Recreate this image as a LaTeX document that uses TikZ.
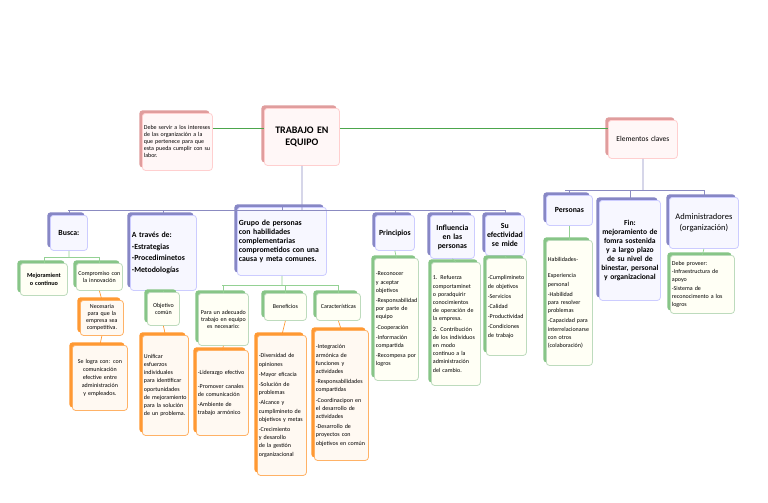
\documentclass[tikz,border=0pt]{standalone}
\usepackage{fontspec}
\setmainfont{Carlito}
\hyphenpenalty=10000
\exhyphenpenalty=10000
\begin{document}
\begin{tikzpicture}[x=1pt,y=-1pt,
 base/.style={anchor=north west,rounded corners=3pt,inner sep=1.5pt,font=\fontsize{6}{7}\selectfont,line width=0.8pt},
 pk/.style={base,draw=pink!70!red!40,fill=red!3,preaction={fill=red!40!pink!80!black!60,transform canvas={shift={(-3pt,3pt)}}}},
 bl/.style={base,draw=blue!20,fill=blue!3,preaction={fill=blue!35!gray!70,transform canvas={shift={(-3pt,3pt)}}}},
 gr/.style={base,draw=green!30!gray!40,fill=green!3!yellow!4,preaction={fill=green!35!gray!70,transform canvas={shift={(-3pt,3pt)}}}},
 or/.style={base,draw=orange!60,fill=orange!5,preaction={fill=orange!80,transform canvas={shift={(-3pt,3pt)}}}},
 lst/.style={font=\fontsize{6}{8.2}\selectfont},
 ttl/.style={font=\fontsize{7.8}{9}\selectfont\bfseries},
 gl/.style={draw=green!50!black!70,line width=0.8pt},
 bline/.style={draw=blue!30!gray!70,line width=0.7pt},
 gline/.style={draw=green!40!gray!60,line width=0.7pt},
 oline/.style={draw=orange!80,line width=0.7pt}]
\useasboundingbox[fill=white] (0,0) rectangle (768,503);
% top
\node[pk,text width=67pt,minimum height=57pt,align=left] (debe) at (142,113) {Debe servir a los intereses de las organización a la que pertenece para que esta pueda cumplir con su labor.};
\node[pk,text width=72pt,minimum height=57pt,align=center,font=\fontsize{10}{12.5}\selectfont\bfseries] (te) at (264,108) {TRABAJO EN\\EQUIPO};
\node[pk,text width=66pt,minimum height=38pt,align=center,font=\fontsize{7.5}{8.5}\selectfont] (ec) at (608,120) {Elementos claves};
\draw[gl] (debe.east|-0,128) -- (te.west|-0,128);
\draw[gl] (te.east|-0,128) -- (ec.west|-0,128);
% level 2
\node[bl,ttl,text width=34pt,minimum height=35pt,align=center] (busca) at (50,215) {Busca:};
\node[bl,text width=63pt,minimum height=75pt,align=left,font=\fontsize{7.8}{11.5}\selectfont\bfseries] (atraves) at (130,215) {A través de:\\-Estrategias\\-Procediminetos\\-Metodologías};
\node[bl,ttl,text width=86pt,minimum height=68pt,align=left] (grupo) at (237,207) {Grupo de personas con habilidades complementarias comprometidos con una causa y meta comunes.};
\node[bl,ttl,text width=36pt,minimum height=35pt,align=center] (princ) at (375,215) {Principios};
\node[bl,ttl,text width=41pt,minimum height=43pt,align=center] (infl) at (430,215) {Influencia en las personas};
\node[bl,ttl,text width=36pt,minimum height=40pt,align=center] (suef) at (485,215) {Su efectividad se mide};
\coordinate (b1) at (302,210);
\draw[bline] (te.south) -- (b1);
\draw[bline] (68,210) -- (500,210);
\foreach \n in {busca,atraves,grupo,princ,infl,suef} \draw[bline] (b1) -| (\n.north);
% Busca children
\node[gr,text width=44pt,minimum height=32pt,align=center,font=\fontsize{6.2}{7.2}\selectfont\bfseries] (mej) at (20,263) {Mejoramient o continuo};
\node[gr,text width=43pt,minimum height=27pt,align=center] (comp) at (76,263) {Compromiso con la innovación};
\coordinate (b2) at (69,257);
\draw[gline] (busca.south) -- (b2); \draw[gline] (b2) -| (mej.north); \draw[gline] (b2) -| (comp.north);
\node[or,text width=40pt,minimum height=35pt,align=center] (nec) at (80,300) {Necesaria para que la empresa sea competitiva.};
\node[or,text width=52pt,minimum height=65pt,align=center,lst] (selog) at (72,345) {Se logra con: con comunicación efective entre administración y empleados.};
\draw[oline] (comp.south) -- (nec.north); \draw[oline] (nec.south) -- (selog.north);
% A traves children
\node[gr,text width=29pt,minimum height=33pt,align=center] (obj) at (147,292) {Objetivo común};
\node[or,lst,text width=43pt,minimum height=100pt,align=left] (unif) at (142,335) {Unificar esfuerzos individuales para identificar oportunidades de mejoramiento para la solución de un problema.};
\draw[gline] (atraves.south) -- (obj.north); \draw[oline] (obj.south) -- (unif.north);
% Grupo children
\node[gr,text width=47pt,minimum height=52pt,align=center] (para) at (198,293) {Para un adecuado trabajo en equipo es necesario:};
\node[or,lst,text width=49pt,minimum height=85pt,align=left] (lid) at (196,350) {\vspace*{4pt}-Liderazgo efectivo\\[2pt]-Promover canales de comunicación\\[2pt]-Ambiente de trabajo armónico};
\node[gr,text width=39pt,minimum height=27pt,align=center] (ben) at (264,293) {Beneficios};
\node[or,lst,text width=46pt,minimum height=140pt,align=left] (div) at (257,335) {-Diversidad de opiniones\\[2pt]-Mayor eficacia\\[2pt]-Solución de problemas\\[2pt]-Alcance y cumplimineto de objetivos y metas\\[2pt]-Crecimiento y desarollo de la gestión organizacional};
\node[gr,text width=41pt,minimum height=27pt,align=center] (car) at (316,293) {Características};
\node[or,lst,text width=51pt,minimum height=130pt,align=left] (integ) at (314,330) {-Integración armónica de funciones y actividades\\[2pt]-Responsabilidades compartidas\\[2pt]-Coordinacipon en el desarrollo de actividades\\[2pt]-Desarrollo de proyectos con objetivos en común};
\coordinate (b3) at (282,285);
\draw[gline] (grupo.south) -- (b3); \draw[gline] (222,285) -- (338,285);
\foreach \n in {para,ben,car} \draw[gline] (b3) -| (\n.north);
\draw[oline] (para.south) -- (lid.north); \draw[oline] (ben.south) -- (div.north); \draw[oline] (car.south) -- (integ.north);
% Right lists
\node[gr,lst,text width=41pt,minimum height=122pt,align=left] (plist) at (374,258) {-Reconocer y aceptar objetivos\\[2pt]-Responsabilidad por parte de equipo\\[2pt]-Cooperación\\[2pt]-Información compartida\\[2pt]-Recompesa por logros};
\node[gr,lst,text width=46pt,minimum height=123pt,align=left] (ilist) at (431,262) {1. Refuerza comportaminet o poradquirir conocimientos de operación de la empresa.\\[2pt]2. Contribución de los individuos en modo continuo a la administración del cambio.};
\node[gr,lst,text width=37pt,minimum height=97pt,align=left] (slist) at (486,258) {-Cumplimineto de objetivos\\[2pt]-Servicios\\[2pt]-Calidad\\[2pt]-Productividad\\[2pt]-Condiciones de trabajo};
\draw[gline] (princ.south) -- (plist.north); \draw[gline] (infl.south) -- (ilist.north); \draw[gline] (suef.south) -- (slist.north);
% Elementos
\node[bl,ttl,text width=43pt,minimum height=30pt,align=center] (pers) at (546,195) {Personas};
\node[bl,text width=58pt,minimum height=100pt,align=center,font=\fontsize{7.6}{9}\selectfont\bfseries] (fin) at (599,200) {Fin:\\mejoramiento de fomra sostenida y a largo plazo de su nivel de binestar, personal y organizacional};
\node[bl,text width=66pt,minimum height=51pt,align=center,font=\fontsize{8.5}{10.5}\selectfont] (adm) at (669,197) {Administradores (organización)};
\coordinate (b4) at (643,190);
\draw[bline] (ec.south) -- (b4); \draw[bline] (565,190) -- (700,190);
\foreach \n in {pers,fin,adm} \draw[bline] (b4) -| (\n.north);
\node[gr,lst,text width=43pt,minimum height=125pt,align=left] (hab) at (546,240) {\vspace*{6pt}Habilidades-\\[2pt]Experiencia personal\\[2pt]-Habilidad para resolver problemas\\[2pt]-Capacidad para interrelacionarse con otros (colaboración)};
\node[gr,lst,text width=61pt,minimum height=58pt,align=left] (prov) at (670,255) {Debe proveer:\\-Infraestructura de apoyo\\-Sistema de reconocimento a los logros};
\draw[gline] (pers.south) -- (hab.north); \draw[gline] (adm.south) -- (prov.north);
\end{tikzpicture}
\end{document}
